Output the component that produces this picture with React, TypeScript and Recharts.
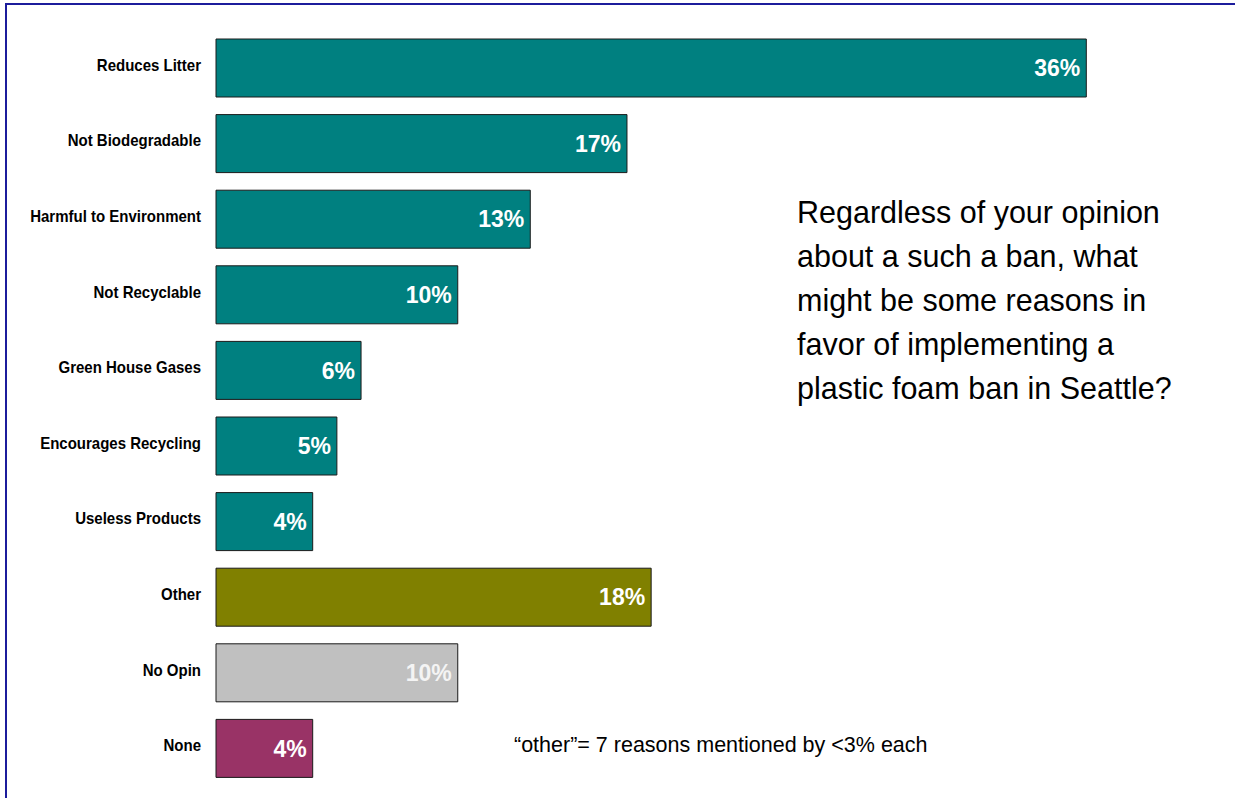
import React from "react";
import { BarChart, Bar, XAxis, YAxis, LabelList, Cell } from "recharts";

const categories = [
  "Reduces Litter",
  "Not Biodegradable",
  "Harmful to Environment",
  "Not Recyclable",
  "Green House Gases",
  "Encourages Recycling",
  "Useless Products",
  "Other",
  "No Opin",
  "None",
];
const values = [36, 17, 13, 10, 6, 5, 4, 18, 10, 4];
const barColors = [
  "#008080", "#008080", "#008080", "#008080", "#008080", "#008080", "#008080",
  "#808000", "#C0C0C0", "#993366",
];
const labelColors = [
  "#ffffff", "#ffffff", "#ffffff", "#ffffff", "#ffffff", "#ffffff", "#ffffff",
  "#ffffff", "#f4f4f4", "#ffffff",
];
const titleLines = [
  "Regardless of your opinion",
  "about a such a ban, what",
  "might be some reasons in",
  "favor of implementing a",
  "plastic foam ban in Seattle?",
];
const footnote = "\u201Cother\u201D= 7 reasons mentioned by <3% each";

const data = categories.map((name, i) => ({ name, value: values[i], label: `${values[i]}%` }));

const FONT = "'Liberation Sans', Arial, Helvetica, sans-serif";

const ValueLabel = (props: any) => {
  const { x, y, width, height, value, index } = props;
  return (
    <text
      x={x + width - 6}
      y={y + height / 2}
      dy="0.36em"
      textAnchor="end"
      fill={labelColors[index]}
      fontFamily={FONT}
      fontWeight="bold"
      fontSize={23}
    >
      {value}
    </text>
  );
};

const CategoryTick = (props: any) => {
  const { x, y, payload } = props;
  return (
    <g transform={`translate(${x},${y + 3}) scale(1,1.13)`}>
      <text
        x={0}
        y={0}
        textAnchor="end"
        fill="#000"
        fontFamily={FONT}
        fontWeight="bold"
        fontSize={15}
      >
        {payload.value}
      </text>
    </g>
  );
};

export default function App() {
  return (
    <div style={{ position: "absolute", left: 0, top: 0, width: 1235, height: 798, overflow: "hidden", background: "#fff" }}>
      <div
        style={{
          position: "absolute",
          left: 5,
          top: 3,
          width: 1400,
          height: 1000,
          borderTop: "2px solid #1c1c9c",
          borderLeft: "2px solid #1c1c9c",
        }}
      />
      <div style={{ position: "absolute", left: 0, top: 0 }}>
        <BarChart
          width={1235}
          height={798}
          data={data}
          layout="vertical"
          margin={{ top: 30, right: 52, bottom: 12, left: 8 }}
        >
          <XAxis type="number" domain={[0, 40]} hide />
          <YAxis
            type="category"
            dataKey="name"
            width={208}
            axisLine={false}
            tickLine={false}
            tickSize={0}
            tickMargin={15}
            interval={0}
            tick={<CategoryTick />}
          />
          <Bar dataKey="value" barSize={58} stroke="#1a1a1a" strokeWidth={1} isAnimationActive={false}>
            {data.map((d, i) => (
              <Cell key={d.name} fill={barColors[i]} />
            ))}
            <LabelList dataKey="label" content={<ValueLabel />} />
          </Bar>
        </BarChart>
      </div>
      <div
        style={{
          position: "absolute",
          left: 797,
          top: 190,
          fontFamily: FONT,
          fontSize: 30.5,
          lineHeight: "44px",
          color: "#000",
          whiteSpace: "nowrap",
        }}
      >
        {titleLines.map((l) => (
          <div key={l}>{l}</div>
        ))}
      </div>
      <div
        style={{
          position: "absolute",
          left: 514,
          top: 735,
          fontFamily: FONT,
          fontSize: 21.5,
          lineHeight: 1,
          color: "#000",
          whiteSpace: "nowrap",
        }}
      >
        {footnote}
      </div>
    </div>
  );
}
